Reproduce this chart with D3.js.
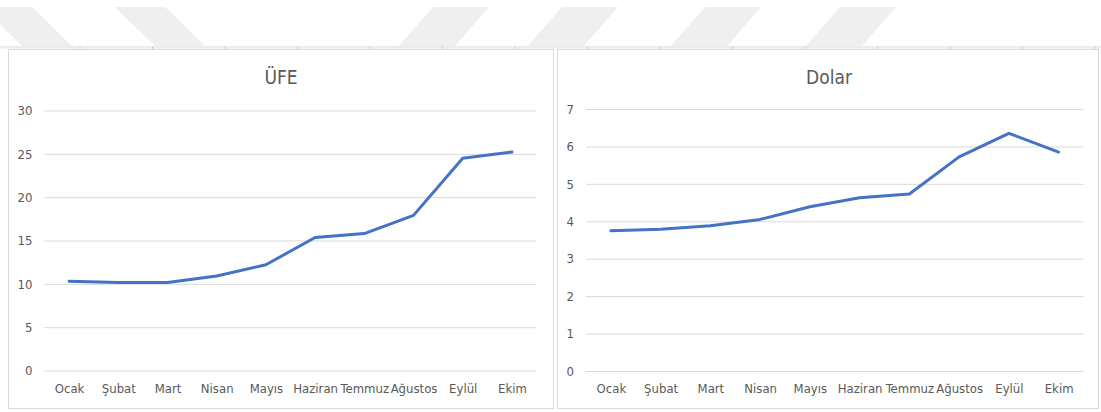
<!DOCTYPE html>
<html>
<head>
<meta charset="utf-8">
<script src="https://cdn.jsdelivr.net/npm/d3@7"></script>
<style>
  html, body { margin: 0; padding: 0; background: #fff; }
  svg { display: block; }
  text { font-family: "Liberation Sans Narrow", "DejaVu Sans Condensed", "Liberation Sans", sans-serif; fill: #595959; }
</style>
</head>
<body>
<svg id="chart" width="1101" height="412"></svg>
<script>
// Months shared by both panels
const months = ["Ocak", "Şubat", "Mart", "Nisan", "Mayıs", "Haziran", "Temmuz", "Ağustos", "Eylül", "Ekim"];

// Producer price index (ÜFE) values
const ufeValues = [10.3, 10.15, 10.15, 10.9, 12.2, 15.35, 15.8, 17.9, 24.5, 25.2];
const ufeTicks = [0, 5, 10, 15, 20, 25, 30];

// USD/TRY exchange rate values
const dolarValues = [3.75, 3.79, 3.88, 4.05, 4.39, 4.63, 4.73, 5.72, 6.35, 5.85];
const dolarTicks = [0, 1, 2, 3, 4, 5, 6, 7];

const svg = d3.select("#chart");

// Light diagonal background stripes along the top of the page
const stripesBack = [-18, 115];          // leaning "\"
const stripesFwd = [433, 562, 705, 840]; // leaning "/"
const stripeG = svg.append("g").attr("fill", "#efefef");
stripesBack.forEach(x0 => {
  stripeG.append("path").attr("d", `M${x0},7 L${x0 + 50},7 L${x0 + 90},46 L${x0 + 40},46 Z`);
});
stripesFwd.forEach(x0 => {
  stripeG.append("path").attr("d", `M${x0},7 L${x0 + 56},7 L${x0 + 22},46 L${x0 - 34},46 Z`);
});

// Thin ruler-like strip above the panels
svg.append("rect").attr("x", 0).attr("y", 46).attr("width", 1101).attr("height", 2.5).attr("fill", "#ececec");
d3.range(80, 1101, 72.5).forEach(x => {
  svg.append("line").attr("x1", x).attr("x2", x).attr("y1", 46).attr("y2", 49)
    .attr("stroke", "#d0d0d0").attr("stroke-width", 1);
});

function drawPanel(cfg) {
  const g = svg.append("g");
  // panel frame
  g.append("rect")
    .attr("x", cfg.box[0] + 0.5).attr("y", cfg.box[1] + 0.5)
    .attr("width", cfg.box[2]).attr("height", cfg.box[3])
    .attr("fill", "#fff").attr("stroke", "#d9d9d9").attr("stroke-width", 1);

  const x = d3.scalePoint().domain(months).range([cfg.x0 + cfg.step / 2, cfg.x1 - cfg.step / 2]);
  const y = d3.scaleLinear().domain([0, d3.max(cfg.ticks)]).range([cfg.yBottom, cfg.yTop]);

  // horizontal gridlines + y labels
  const yAxis = d3.axisLeft(y).tickValues(cfg.ticks).tickSize(-(cfg.x1 - cfg.x0)).tickPadding(12).tickFormat(d3.format("d"));
  const ya = g.append("g").attr("transform", `translate(${cfg.x0},0)`).call(yAxis);
  ya.select(".domain").remove();
  ya.selectAll(".tick line").attr("stroke", "#d9d9d9").attr("stroke-width", 1);
  ya.selectAll(".tick text").attr("font-size", 13).style("fill", "#595959");

  // category labels
  const xAxis = d3.axisBottom(x).tickSize(0).tickPadding(13);
  const xa = g.append("g").attr("transform", `translate(0,${cfg.yBottom})`).call(xAxis);
  xa.select(".domain").remove();
  xa.selectAll(".tick text").attr("font-size", 13).style("fill", "#595959");

  // title
  g.append("text")
    .attr("x", cfg.titleX).attr("y", 84)
    .attr("text-anchor", "middle")
    .attr("font-size", 19)
    .text(cfg.title);

  // series line
  const line = d3.line().x((d, i) => x(months[i])).y(d => y(d));
  g.append("path")
    .datum(cfg.values)
    .attr("d", line)
    .attr("fill", "none")
    .attr("stroke", "#4472c4")
    .attr("stroke-width", 3)
    .attr("stroke-linejoin", "round")
    .attr("stroke-linecap", "round");
}

drawPanel({
  box: [8, 49, 545, 359],
  x0: 44.5, x1: 536.5, step: 49.2,
  yBottom: 370.5, yTop: 110.5,
  ticks: ufeTicks, values: ufeValues,
  title: "ÜFE", titleX: 281
});

drawPanel({
  box: [557, 49, 541, 359],
  x0: 586, x1: 1083.5, step: 49.75,
  yBottom: 371, yTop: 109,
  ticks: dolarTicks, values: dolarValues,
  title: "Dolar", titleX: 829
});
</script>
</body>
</html>
